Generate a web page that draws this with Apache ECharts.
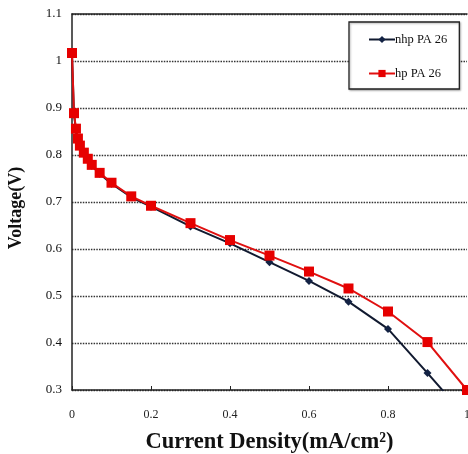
<!DOCTYPE html>
<html><head><meta charset="utf-8">
<script src="https://cdn.jsdelivr.net/npm/echarts@6/dist/echarts.min.js"></script>
<style>html,body{margin:0;padding:0;background:#fff}#c{width:468px;height:454px}</style>
</head><body><div id="c"></div>
<script>
const currentDensity = [0, 0.005, 0.01, 0.015, 0.02, 0.03, 0.04, 0.05, 0.07, 0.1, 0.15, 0.2, 0.3, 0.4, 0.5, 0.6, 0.7, 0.8, 0.9, 1.0];
const nhpVoltage = [1.015, 0.887, 0.853, 0.832, 0.818, 0.803, 0.79, 0.777, 0.76, 0.739, 0.71, 0.69, 0.648, 0.612, 0.572, 0.532, 0.488, 0.43, 0.336, 0.24];
const hpVoltage  = [1.017, 0.889, 0.856, 0.835, 0.82, 0.805, 0.792, 0.779, 0.762, 0.741, 0.712, 0.692, 0.655, 0.619, 0.586, 0.552, 0.516, 0.467, 0.402, 0.3];
const seriesNames = ['nhp PA 26', 'hp PA 26'];
const xTickLabels = ['0', '0.2', '0.4', '0.6', '0.8', '1'];

const pair = (xs, ys) => xs.map((x, i) => [x, ys[i]]);
const serif = '"Liberation Serif","DejaVu Serif",serif';

const chart = echarts.init(document.getElementById('c'));
chart.setOption({
  animation: false,
  backgroundColor: '#fff',
  grid: { left: 72, right: 1, top: 14, bottom: 64, outerBoundsMode: 'none', containLabel: false },
  legend: {
    data: seriesNames,
    orient: 'vertical',
    left: 349, top: 22,
    padding: [11, 12, 9, 19],
    itemGap: 21,
    itemWidth: 26, itemHeight: 9,
    backgroundColor: '#fff',
    borderColor: '#222', borderWidth: 1.3,
    shadowColor: 'rgba(0,0,0,0.3)', shadowBlur: 2, shadowOffsetX: 1, shadowOffsetY: 1,
    textStyle: { fontFamily: serif, fontSize: 12.5, color: '#111', padding: [0, 0, 0, -5] }
  },
  xAxis: [{
    type: 'value', min: 0, max: 1, interval: 0.2,
    name: 'Current Density(mA/cm²)', nameLocation: 'middle', nameGap: 41,
    nameTextStyle: { fontFamily: serif, fontSize: 22.5, fontWeight: 'bold', color: '#111' },
    axisLine: { show: true, lineStyle: { color: '#222', width: 1.5 } },
    axisTick: { show: true, inside: true, length: 4, lineStyle: { color: '#222' } },
    axisLabel: { fontFamily: serif, fontSize: 12, color: '#222', margin: 19,
      formatter: v => xTickLabels[Math.round(v / 0.2)] },
    splitLine: { show: false }
  }, {
    type: 'value', position: 'top', min: 0, max: 1,
    axisLine: { show: true, lineStyle: { color: '#222', width: 1.5 } },
    axisTick: { show: false }, axisLabel: { show: false }, splitLine: { show: false }
  }],
  yAxis: {
    type: 'value', min: 0.3, max: 1.1, interval: 0.1,
    name: 'Voltage(V)', nameLocation: 'middle', nameGap: 47,
    nameTextStyle: { fontFamily: serif, fontSize: 18, fontWeight: 'bold', color: '#111', padding: [0, 12, 0, 0] },
    axisLine: { show: true, lineStyle: { color: '#222', width: 1.5 } },
    axisTick: { show: false },
    axisLabel: { fontFamily: serif, fontSize: 13, color: '#111', margin: 10,
      formatter: v => String(Math.round(v * 10) / 10) },
    splitLine: { show: true, lineStyle: { color: '#333', width: 1.3, type: [1.5, 1.2] } }
  },
  series: [{
    name: seriesNames[0], type: 'line', clip: true,
    data: pair(currentDensity, nhpVoltage),
    symbol: 'diamond', symbolSize: 8,
    itemStyle: { color: '#132244' },
    lineStyle: { color: '#111a30', width: 2 }
  }, {
    name: seriesNames[1], type: 'line', clip: true,
    data: pair(currentDensity, hpVoltage),
    symbol: 'rect', symbolSize: 10,
    itemStyle: { color: '#e60000' },
    lineStyle: { color: '#e01010', width: 2 }
  }]
});
</script></body></html>
